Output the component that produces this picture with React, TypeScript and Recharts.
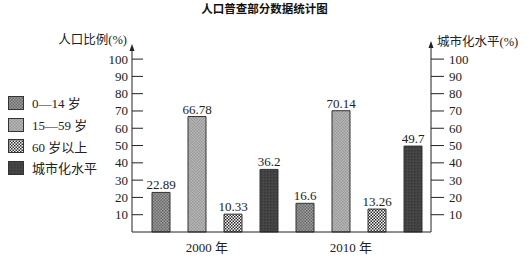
import React from 'react';
import { BarChart, Bar, XAxis, YAxis, LabelList } from 'recharts';

const categories = ['2000 年', '2010 年'];
const age0to14 = [22.89, 16.6];
const age15to59 = [66.78, 70.14];
const age60plus = [10.33, 13.26];
const urbanRate = [36.2, 49.7];
const tickValues = [10, 20, 30, 40, 50, 60, 70, 80, 90, 100];

const seriesNames = ['0—14 岁', '15—59 岁', '60 岁以上', '城市化水平'];
const seriesKeys = ['A', 'B', 'C', 'D'];

const data = categories.map((c, i) => ({
  name: c,
  a: age0to14[i],
  b: age15to59[i],
  c: age60plus[i],
  d: urbanRate[i],
}));

const SERIF = '"Liberation Serif", "DejaVu Serif", "Noto Sans CJK SC", serif';

const PatternContent = ({ k }: { k: string }) => {
  if (k === 'A')
    return (
      <>
        <rect width={3} height={3} fill="#9c9c9c" />
        <rect width={1.5} height={1.5} fill="#6a6a6a" />
        <rect x={1.5} y={1.5} width={1.5} height={1.5} fill="#6a6a6a" />
      </>
    );
  if (k === 'B')
    return (
      <>
        <rect width={3} height={3} fill="#b8b8b8" />
        <rect width={1.5} height={1.5} fill="#999" />
        <rect x={1.5} y={1.5} width={1.5} height={1.5} fill="#999" />
      </>
    );
  if (k === 'C')
    return (
      <>
        <rect width={3} height={3} fill="#fafafa" />
        <rect width={1.5} height={1.5} fill="#2a2a2a" />
        <rect x={1.5} y={1.5} width={1.5} height={1.5} fill="#2a2a2a" />
      </>
    );
  return (
    <>
      <rect width={3} height={3} fill="#464646" />
      <rect width={1.5} height={1.5} fill="#353535" />
    </>
  );
};

const Patterns = ({ prefix }: { prefix: string }) => (
  <defs>
    {seriesKeys.map((k) => (
      <pattern key={k} id={prefix + k} width={3} height={3} patternUnits="userSpaceOnUse">
        <PatternContent k={k} />
      </pattern>
    ))}
  </defs>
);

const LeftTick = (props: any) => {
  const { x, y, payload } = props;
  return (
    <g>
      <line x1={x} x2={x + 11} y1={y} y2={y} stroke="#222" strokeWidth={1} />
      <text x={x - 4} y={y + 4.5} textAnchor="end" fontFamily={SERIF} fontSize={13} fill="#222">
        {payload.value}
      </text>
    </g>
  );
};

const RightTick = (props: any) => {
  const { x, y, payload } = props;
  return (
    <g>
      <line x1={x} x2={x + 13} y1={y} y2={y} stroke="#222" strokeWidth={1} />
      <text x={x + 18} y={y + 4.5} textAnchor="start" fontFamily={SERIF} fontSize={13} fill="#222">
        {payload.value}
      </text>
    </g>
  );
};

const XTick = (props: any) => {
  const { x, y, payload } = props;
  return (
    <text x={x - 8} y={y + 20} textAnchor="middle" fontFamily={SERIF} fontSize={13} fill="#222">
      {payload.value}
    </text>
  );
};

const LeftAxisLabel = (props: any) => {
  const vb = props.viewBox || {};
  const ax = vb.x + vb.width;
  const top = vb.y;
  return (
    <g>
      <polygon points={`${ax},${top - 3} ${ax - 2.5},${top + 4} ${ax + 2.5},${top + 4}`} fill="#222" />
      <text x={ax - 5} y={top - 3} textAnchor="end" fontFamily={SERIF} fontSize={12.5} fill="#222">
        人口比例(%)
      </text>
    </g>
  );
};

const RightAxisLabel = (props: any) => {
  const vb = props.viewBox || {};
  const ax = vb.x;
  const top = vb.y;
  return (
    <g>
      <line x1={ax} x2={ax} y1={top} y2={top - 4} stroke="#222" />
      <polygon points={`${ax},${top - 6} ${ax - 2.5},${top + 1} ${ax + 2.5},${top + 1}`} fill="#222" />
      <text x={ax + 6} y={top - 1} textAnchor="start" fontFamily={SERIF} fontSize={12.5} fill="#222">
        城市化水平(%)
      </text>
    </g>
  );
};

const Swatch = ({ k }: { k: string }) => (
  <svg width={16} height={14} style={{ display: 'block' }}>
    <Patterns prefix={'lg' + k} />
    <rect x={0.5} y={0.5} width={15} height={13} fill={`url(#lg${k}${k})`} stroke="#333" />
  </svg>
);

export default function App() {
  return (
    <div style={{ position: 'absolute', left: 0, top: 0, width: 529, height: 261, background: '#fff' }}>
      <div
        style={{
          position: 'absolute',
          left: 0,
          top: 0,
          width: 529,
          textAlign: 'center',
          fontFamily: '"Noto Sans CJK SC", sans-serif',
          fontWeight: 700,
          fontSize: 11.5,
          lineHeight: '16px',
          color: '#111',
        }}
      >
        人口普查部分数据统计图
      </div>
      <div style={{ position: 'absolute', left: 8, top: 92 }}>
        {seriesNames.map((n, i) => (
          <div key={n} style={{ display: 'flex', alignItems: 'center', height: 21.7 }}>
            <Swatch k={seriesKeys[i]} />
            <span style={{ marginLeft: 8, fontFamily: SERIF, fontSize: 13, color: '#222', whiteSpace: 'nowrap' }}>{n}</span>
          </div>
        ))}
      </div>
      <BarChart
        width={529}
        height={261}
        data={data}
        margin={{ top: 47, right: 8, bottom: 0, left: 72 }}
        barSize={18}
        barGap={18}
        style={{ position: 'absolute', left: 0, top: 0 }}
      >
        <Patterns prefix="p" />
        <XAxis
          dataKey="name"
          height={29}
          axisLine={{ stroke: '#222' }}
          tickLine={false}
          tickSize={0}
          tickMargin={0}
          tick={<XTick />}
          padding={{ left: 11, right: 0 }}
        />
        <YAxis
          yAxisId="left"
          orientation="left"
          width={60}
          domain={[0, 107]}
          ticks={tickValues}
          interval={0}
          axisLine={{ stroke: '#222' }}
          tickLine={false}
          tickSize={0}
          tickMargin={0}
          tick={<LeftTick />}
          label={<LeftAxisLabel />}
        />
        <YAxis
          yAxisId="right"
          orientation="right"
          width={90}
          domain={[0, 107]}
          ticks={tickValues}
          interval={0}
          axisLine={{ stroke: '#222' }}
          tickLine={false}
          tickSize={0}
          tickMargin={0}
          tick={<RightTick />}
          label={<RightAxisLabel />}
        />
        {['a', 'b', 'c'].map((k, i) => (
          <Bar key={k} dataKey={k} name={seriesNames[i]} yAxisId="left" fill={`url(#p${seriesKeys[i]})`} stroke="#333" strokeWidth={1} isAnimationActive={false}>
            <LabelList dataKey={k} position="top" offset={3} fontFamily={SERIF} fontSize={13} fill="#222" />
          </Bar>
        ))}
        <Bar dataKey="d" name={seriesNames[3]} yAxisId="right" fill="url(#pD)" stroke="#333" strokeWidth={1} isAnimationActive={false}>
          <LabelList dataKey="d" position="top" offset={3} fontFamily={SERIF} fontSize={13} fill="#222" />
        </Bar>
      </BarChart>
    </div>
  );
}
